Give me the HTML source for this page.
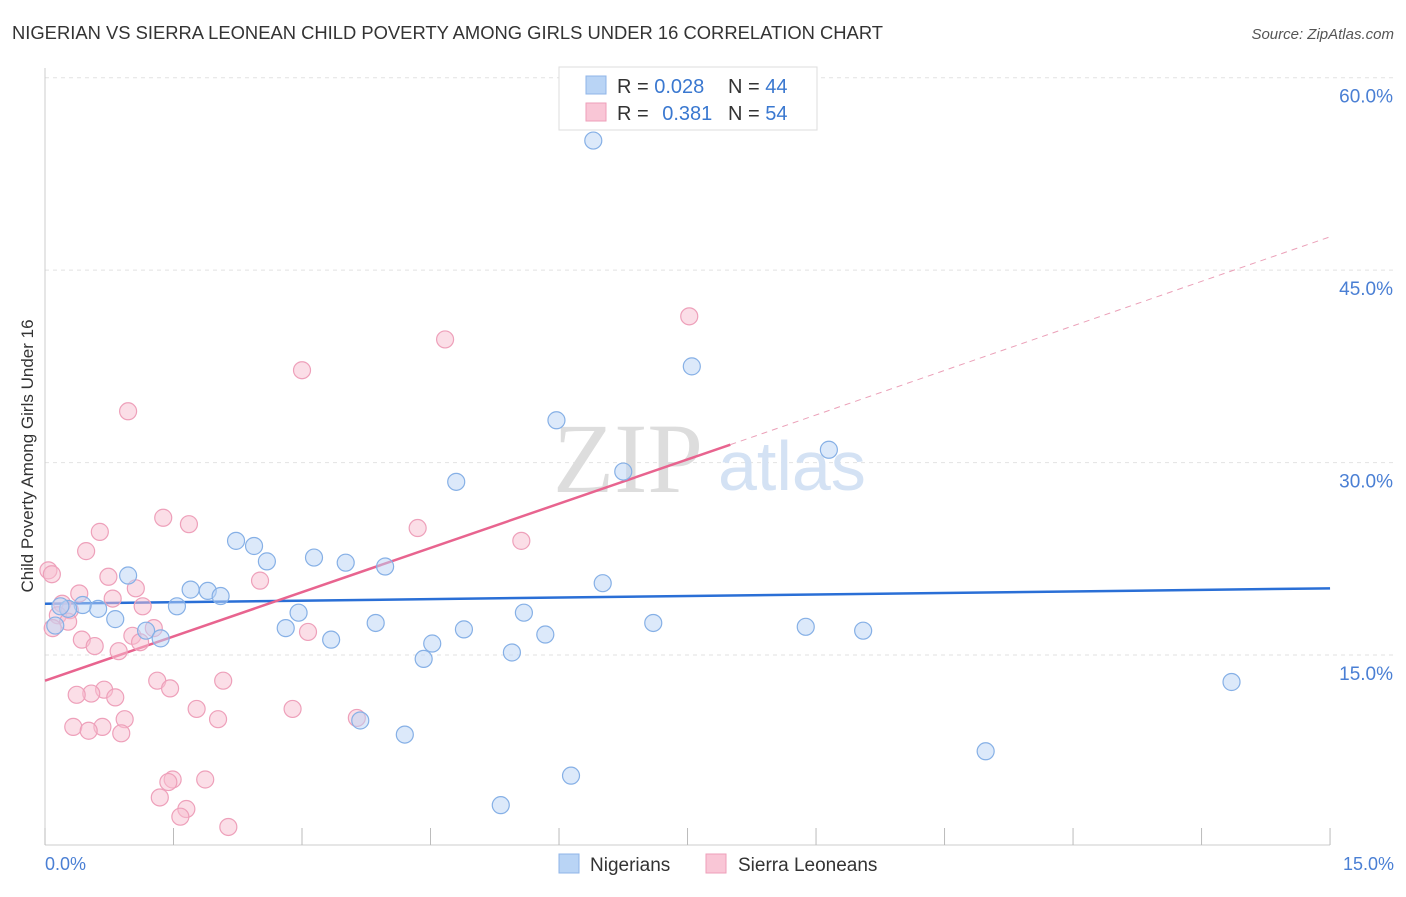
<!DOCTYPE html>
<html><head><meta charset="utf-8"><style>
body{margin:0;background:#fff;font-family:"Liberation Sans",sans-serif}
svg text{font-family:"Liberation Sans",sans-serif}
</style></head><body>
<svg width="1406" height="892" viewBox="0 0 1406 892">
<text x="12" y="39" font-size="18" fill="#333" textLength="871" lengthAdjust="spacingAndGlyphs">NIGERIAN VS SIERRA LEONEAN CHILD POVERTY AMONG GIRLS UNDER 16 CORRELATION CHART</text>
<text x="1394" y="39" font-size="15" fill="#555" text-anchor="end" font-style="italic">Source: ZipAtlas.com</text>
<g id="grid"></g>
<text x="553" y="492" font-size="100" fill="#ddd" font-family="Liberation Serif" style="font-family:'Liberation Serif',serif">ZIP</text>
<text x="718" y="490" font-size="70" fill="#d4e2f4">atlas</text>
<line x1="45" y1="68" x2="45" y2="845" stroke="#ccc"/>
<line x1="45" y1="845" x2="1330" y2="845" stroke="#ccc"/>
<g id="ticks"></g>
<text x="45" y="870" font-size="18" fill="#4a7fd4">0.0%</text>
<text x="1394" y="870" font-size="18" fill="#4a7fd4" text-anchor="end">15.0%</text>
<text transform="translate(33,456) rotate(-90)" font-size="17" fill="#333" text-anchor="middle">Child Poverty Among Girls Under 16</text>
<g id="lines"></g>
<g id="pts"></g>
<g>
<rect x="559" y="67" width="258" height="63" fill="#fff" stroke="#ddd"/>
<rect x="586" y="76" width="20" height="18" fill="#b9d4f5" stroke="#8fb5e8"/>
<rect x="586" y="103" width="20" height="18" fill="#f9c6d6" stroke="#ee9fb9"/>
<text x="617" y="93" font-size="20" fill="#333">R = <tspan fill="#3a78d0">0.028</tspan><tspan x="728">N = </tspan><tspan fill="#3a78d0">44</tspan></text>
<text x="617" y="120" font-size="20" fill="#333">R = <tspan fill="#3a78d0" dx="8">0.381</tspan><tspan x="728">N = </tspan><tspan fill="#3a78d0">54</tspan></text>
</g>
<g>
<rect x="559" y="854" width="20" height="19" fill="#b9d4f5" stroke="#8fb5e8"/>
<text x="590" y="871" font-size="19" fill="#333">Nigerians</text>
<rect x="706" y="854" width="20" height="19" fill="#f9c6d6" stroke="#ee9fb9"/>
<text x="738" y="871" font-size="19" fill="#333">Sierra Leoneans</text>
</g>
</svg>
<script>
const yTicks=[15,30,45,60];
const yTickLabels=["15.0%","30.0%","45.0%","60.0%"];
const xTicks=[0,1.5,3,4.5,6,7.5,9,10.5,12,13.5,15];
const nigX=[6.4,7.55,5.97,9.15,6.75,4.8,2.23,2.44,2.59,3.14,3.51,3.97,6.51,0.97,1.7,1.9,2.05,1.54,2.96,5.59,0.62,0.44,0.27,0.18,0.82,0.12,1.18,1.35,2.81,3.34,3.86,4.89,5.84,7.1,8.88,9.55,4.52,4.42,5.45,3.68,4.2,13.85,10.98,6.14,5.32];
const nigY=[55.1,37.5,33.3,31.0,29.3,28.5,23.9,23.5,22.3,22.6,22.2,21.9,20.6,21.2,20.1,20.0,19.6,18.8,18.3,18.3,18.6,18.9,18.6,18.8,17.8,17.3,16.9,16.3,17.1,16.2,17.5,17.0,16.6,17.5,17.2,16.9,15.9,14.7,15.2,9.9,8.8,12.9,7.5,5.6,3.3];
const sieX=[7.52,4.67,3.0,0.97,1.38,1.68,0.64,4.35,5.56,0.48,0.04,0.08,0.74,2.51,1.06,0.4,0.79,1.14,0.2,0.29,0.15,0.27,0.09,1.27,1.02,0.43,0.58,1.11,0.86,3.07,1.31,1.46,2.08,0.69,0.54,0.37,0.82,1.77,2.89,0.93,2.02,3.64,0.33,0.67,0.51,0.89,1.49,1.44,1.87,1.34,1.65,1.58,2.14];
const sieY=[41.4,39.6,37.2,34.0,25.7,25.2,24.6,24.9,23.9,23.1,21.6,21.3,21.1,20.8,20.2,19.8,19.4,18.8,19.0,18.5,18.1,17.6,17.1,17.1,16.5,16.2,15.7,16.0,15.3,16.8,13.0,12.4,13.0,12.3,12.0,11.9,11.7,10.8,10.8,10.0,10.0,10.1,9.4,9.4,9.1,8.9,5.3,5.1,5.3,3.9,3.0,2.4,1.6];
const nigLine=[0,19.0,15,20.2];
const sieLine=[0,13.0,8,31.4,15,47.6];
const X=v=>45+v*85.67, Y=v=>847.5-v*12.83;
const NS="http://www.w3.org/2000/svg";
function mk(t,a,p){const e=document.createElementNS(NS,t);for(const k in a)e.setAttribute(k,a[k]);p.appendChild(e);return e;}
const grid=document.getElementById('grid');
yTicks.forEach((v,i)=>{
 const l=mk('line',{x1:45,x2:1394,y1:Y(v),y2:Y(v),stroke:'#e2e2e2','stroke-dasharray':'4,4'},grid);
 
 
 const t=mk('text',{x:1393,y:Y(v)+25,'font-size':19,fill:'#4a7fd4','text-anchor':'end'},grid);t.textContent=yTickLabels[i];
 
 
});
const tk=document.getElementById('ticks');
xTicks.forEach(v=>{const l=mk('line',{x1:X(v),x2:X(v),y1:828,y2:845,stroke:'#bbb'},tk);
 
 });
const ln=document.getElementById('lines');
let a=mk('line',{x1:X(nigLine[0]),y1:Y(nigLine[1]),x2:X(nigLine[2]),y2:Y(nigLine[3]),stroke:'#2a6fd6','stroke-width':2.5},ln);


a=mk('line',{x1:X(sieLine[0]),y1:Y(sieLine[1]),x2:X(sieLine[2]),y2:Y(sieLine[3]),stroke:'#e8648f','stroke-width':2.5},ln);


a=mk('line',{x1:X(sieLine[2]),y1:Y(sieLine[3]),x2:X(sieLine[4]),y2:Y(sieLine[5]),stroke:'#eba0b8','stroke-width':1,'stroke-dasharray':'6,5'},ln);


const pts=document.getElementById('pts');
sieX.forEach((x,i)=>{const c=mk('circle',{cx:X(x),cy:Y(sieY[i]),r:8.5,fill:'rgba(248,190,208,0.5)',stroke:'#eea0ba','stroke-width':1.2},pts);
 
 });
nigX.forEach((x,i)=>{const c=mk('circle',{cx:X(x),cy:Y(nigY[i]),r:8.5,fill:'rgba(185,212,245,0.5)',stroke:'#86b0e6','stroke-width':1.2},pts);
 
 });
</script>
</body></html>
